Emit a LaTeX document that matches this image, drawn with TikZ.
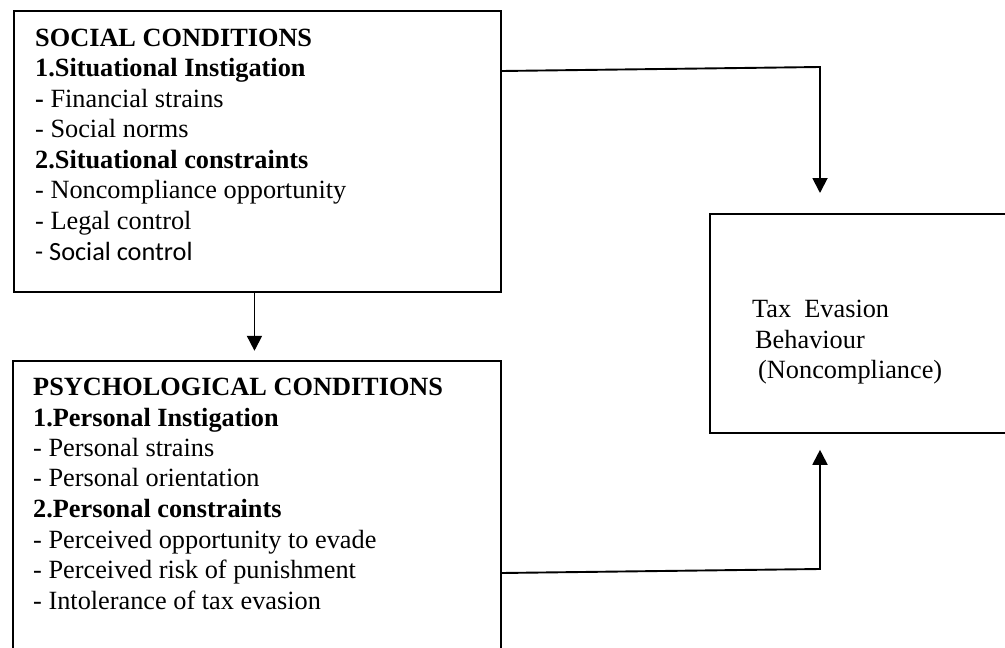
\documentclass[tikz,border=0pt]{standalone}
\usepackage{fontspec}
\setmainfont{Liberation Serif}
\newfontfamily\calibrifont{Carlito}
\usetikzlibrary{arrows.meta,calc}

\begin{document}
\begin{tikzpicture}[x=1pt,y=-1pt,
  box/.style={draw, line width=1.8pt, rectangle, inner sep=0pt, anchor=north west},
  txt/.style={anchor=base west, inner sep=0pt, font=\fontsize{26.3}{30.6}\selectfont},
  link/.style={line width=1.9pt, -{Triangle[length=15pt,width=15pt]}}]

  \useasboundingbox (0,0) rectangle (1005,648);
  \clip (0,0) rectangle (1005,648);

  % the three boxes
  \node[box, minimum width=487pt, minimum height=281pt] (soc) at (13,10) {};
  \node[box, minimum width=488pt, minimum height=340pt] (psy) at (12,360) {};
  \node[box, minimum width=320pt, minimum height=219pt] (teb) at (709,213) {};

  % social conditions
  \node[txt] (s1) at (35,46)    {\bfseries SOCIAL CONDITIONS};
  \node[txt] (s2) at (35,76.5)  {\bfseries 1.Situational Instigation};
  \node[txt] (s3) at (35,107)   {\textbf{-} Financial strains};
  \node[txt] (s4) at (35,137.5) {- Social norms};
  \node[txt] (s5) at (35,168)   {\bfseries 2.Situational constraints};
  \node[txt] (s6) at (35,198.5) {- Noncompliance opportunity};
  \node[txt] (s7) at (35,229)   {- Legal control};
  \node[txt] (s8) at (35,260)   {\calibrifont - Social control};

  % psychological conditions
  \node[txt] (p1) at (33,395)   {\bfseries PSYCHOLOGICAL CONDITIONS};
  \node[txt] (p2) at (33,426)   {\bfseries 1.Personal Instigation};
  \node[txt] (p3) at (33,456)   {- Personal strains};
  \node[txt] (p4) at (33,486.5) {- Personal orientation};
  \node[txt] (p5) at (33,517.5) {\bfseries 2.Personal constraints};
  \node[txt] (p6) at (33,548)   {- Perceived opportunity to evade};
  \node[txt] (p7) at (33,578.5) {- Perceived risk of punishment};
  \node[txt] (p8) at (33,609.5) {- Intolerance of tax evasion};

  % outcome
  \node[txt] (t1) at (752,317) {Tax~ Evasion};
  \node[txt] (t2) at (755,348) {Behaviour};
  \node[txt] (t3) at (758,378) {(Noncompliance)};

  % connectors
  \draw[link] ($(soc.south west)!0.494!(soc.south east)$) -- ($(soc.south west)!0.494!(soc.south east)+(0,58)$);
  \draw[link] ($(soc.north east)+(0,61)$) -- (820,67) -- ($(teb.north west -| 820,0)+(0,-20)$);
  \draw[link] ($(psy.north east)+(0,213)$) -- (820,569) -- ($(teb.south west -| 820,0)+(0,16)$);
\end{tikzpicture}
\end{document}
